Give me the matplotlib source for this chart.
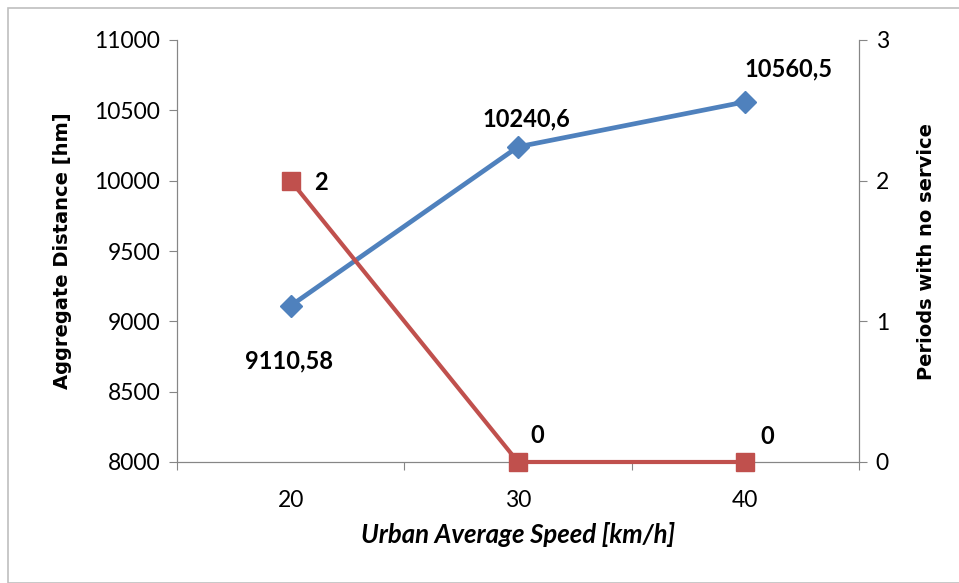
import matplotlib
matplotlib.use("Agg")
import matplotlib.pyplot as plt
from matplotlib.patches import Rectangle

# data
speeds = ["20", "30", "40"]
distance = [9110.58, 10240.6, 10560.5]
no_service = [2, 0, 0]
dist_labels = ["9110,58", "10240,6", "10560,5"]
ns_labels = ["2", "0", "0"]

narrow = ["Lato", "DejaVu Sans"]
blue = "#4F81BD"
red = "#C0504D"
grey = "#868686"

fig = plt.figure(figsize=(9.59, 5.83), dpi=100)
ax = fig.add_axes([177/959, 1 - 462/583, 682/959, 422/583])
ax2 = ax.twinx()

x = [1, 2, 3]
ax.plot(x, distance, color=blue, lw=3.4, marker="D", ms=11, zorder=3)
ax2.plot(x, no_service, color=red, lw=3, marker="s", ms=13.5, zorder=3, clip_on=False)

ax.set_xlim(0.5, 3.5)
ax.set_ylim(8000, 11000)
ax.set_yticks(range(8000, 11001, 500))
ax2.set_ylim(0, 3)
ax2.set_yticks([0, 1, 2, 3])

ax.set_xticks([0.5, 1.5, 2.5, 3.5])
ax.set_xticklabels([])
ax.set_xticks(x, minor=True)
ax.set_xticklabels(speeds, minor=True)
ax.tick_params(axis="x", which="minor", length=0, pad=20)
ax.tick_params(axis="x", which="major", length=6, color=grey)

for a in (ax, ax2):
    a.spines["top"].set_visible(False)
    for s in ("left", "right", "bottom"):
        a.spines[s].set_color(grey)
    a.tick_params(axis="y", length=6, color=grey, labelsize=16.5, pad=6)
ax.tick_params(axis="x", which="minor", labelsize=16.5)
for lab in ax.get_yticklabels() + ax2.get_yticklabels() + ax.get_xticklabels(minor=True):
    lab.set_family(narrow)

ax.set_ylabel("Aggregate Distance [hm]", fontsize=14, fontweight="bold", labelpad=16)
ax2.set_ylabel("Periods with no service", fontsize=14, fontweight="bold", labelpad=20)
ax.set_xlabel("Urban Average Speed [km/h]", fontsize=18.5, fontweight="bold",
              style="italic", family=narrow, labelpad=8)

# data labels
offs = [(-1, -40), (6, 20), (31, 24)]
for xi, v, t, o in zip(x, distance, dist_labels, offs):
    ax.annotate(t, (xi, v), xytext=o, textcoords="offset points", ha="center",
                va="center", fontsize=17, fontweight="bold", family=narrow)
offs2 = [(22, -1), (14, 19), (16, 18)]
for xi, v, t, o in zip(x, no_service, ns_labels, offs2):
    ax2.annotate(t, (xi, v), xytext=o, textcoords="offset points", ha="center",
                 va="center", fontsize=17, fontweight="bold", family=narrow)

fig.patches.append(Rectangle((8/959, 0), 1, 1 - 8/583, transform=fig.transFigure,
                             fill=False, ec="#BFBFBF", lw=1.2))

fig.savefig("out.png", dpi=100)
